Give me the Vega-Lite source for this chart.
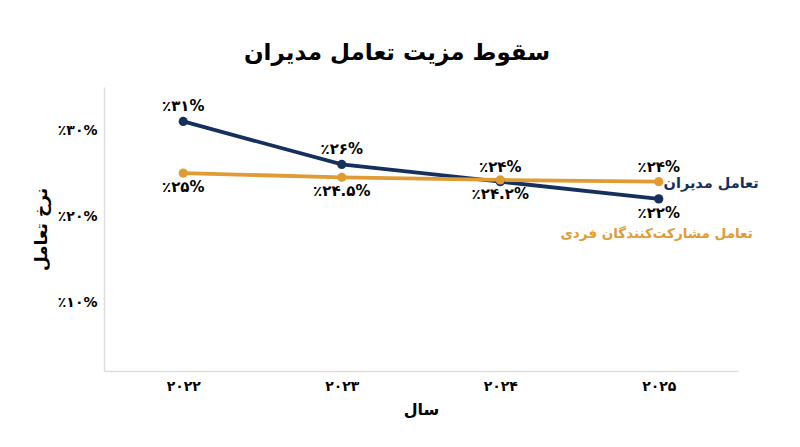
{
  "$schema": "https://vega.github.io/schema/vega-lite/v6.json",
  "width": 634,
  "height": 284,
  "autosize": "none",
  "padding": {"left": 104, "top": 87, "right": 62, "bottom": 76},
  "background": "white",
  "view": {"stroke": null},
  "config": {"font": "DejaVu Sans"},
  "title": {
    "text": "سقوط مزیت تعامل مدیران",
    "fontSize": 23,
    "fontWeight": "bold",
    "color": "#000000",
    "anchor": "middle",
    "dx": -24,
    "offset": 22
  },
  "data": {
    "values": [
      {"year": "۲۰۲۲", "series": "تعامل مدیران", "value": 31, "label": "٪۳۱%"},
      {"year": "۲۰۲۳", "series": "تعامل مدیران", "value": 26, "label": "٪۲۶%"},
      {"year": "۲۰۲۴", "series": "تعامل مدیران", "value": 24, "label": "٪۲۴%"},
      {"year": "۲۰۲۵", "series": "تعامل مدیران", "value": 22, "label": "٪۲۲%"},
      {"year": "۲۰۲۲", "series": "تعامل مشارکت‌کنندگان فردی", "value": 25, "label": "٪۲۵%"},
      {"year": "۲۰۲۳", "series": "تعامل مشارکت‌کنندگان فردی", "value": 24.5, "label": "٪۲۴.۵%"},
      {"year": "۲۰۲۴", "series": "تعامل مشارکت‌کنندگان فردی", "value": 24.2, "label": "٪۲۴.۲%"},
      {"year": "۲۰۲۵", "series": "تعامل مشارکت‌کنندگان فردی", "value": 24, "label": "٪۲۴%"}
    ]
  },
  "encoding": {
    "x": {
      "field": "year",
      "type": "ordinal",
      "scale": {"type": "point", "padding": 0.5, "domain": ["۲۰۲۲", "۲۰۲۳", "۲۰۲۴", "۲۰۲۵"]},
      "axis": {
        "title": "سال",
        "titleFontSize": 16,
        "titleFontWeight": "bold",
        "titleColor": "#000000",
        "titlePadding": 8,
        "labelAngle": 0,
        "labelFontSize": 14,
        "labelFontWeight": "bold",
        "labelColor": "#000000",
        "labelPadding": 8,
        "ticks": false,
        "grid": false,
        "domainColor": "#dddddd",
        "domainWidth": 1.5
      }
    },
    "y": {
      "field": "value",
      "type": "quantitative",
      "scale": {"domain": [2, 35], "nice": false, "zero": false},
      "axis": {
        "title": "نرخ تعامل",
        "titleFontSize": 17,
        "titleFontWeight": "bold",
        "titleColor": "#000000",
        "titlePadding": 7,
        "values": [10, 20, 30],
        "labelExpr": "datum.value == 10 ? '٪۱۰%' : datum.value == 20 ? '٪۲۰%' : '٪۳۰%'",
        "labelFontSize": 14,
        "labelFontWeight": "bold",
        "labelColor": "#000000",
        "labelPadding": 7,
        "ticks": false,
        "grid": false,
        "domainColor": "#dddddd",
        "domainWidth": 1.5
      }
    },
    "color": {
      "field": "series",
      "type": "nominal",
      "scale": {
        "domain": ["تعامل مدیران", "تعامل مشارکت‌کنندگان فردی"],
        "range": ["#16305e", "#e09b35"]
      },
      "legend": null
    }
  },
  "layer": [
    {"mark": {"type": "line", "strokeWidth": 3.8}},
    {"mark": {"type": "point", "filled": true, "size": 85, "opacity": 1}},
    {
      "transform": [
        {"filter": "(datum.series == 'تعامل مدیران' && datum.year != '۲۰۲۵') || (datum.series != 'تعامل مدیران' && datum.year == '۲۰۲۵')"}
      ],
      "mark": {"type": "text", "baseline": "bottom", "dy": -7, "fontSize": 15, "fontWeight": "bold", "color": "#000000"},
      "encoding": {"text": {"field": "label"}, "color": {"value": "#000000"}}
    },
    {
      "transform": [
        {"filter": "!((datum.series == 'تعامل مدیران' && datum.year != '۲۰۲۵') || (datum.series != 'تعامل مدیران' && datum.year == '۲۰۲۵'))"}
      ],
      "mark": {"type": "text", "baseline": "top", "dy": 7, "fontSize": 15, "fontWeight": "bold", "color": "#000000"},
      "encoding": {"text": {"field": "label"}, "color": {"value": "#000000"}}
    },
    {
      "transform": [
        {"filter": "datum.series == 'تعامل مدیران' && datum.year == '۲۰۲۵'"}
      ],
      "mark": {"type": "text", "align": "right", "baseline": "middle", "dx": 100, "dy": -15, "fontSize": 14.5, "fontWeight": "bold"},
      "encoding": {"text": {"field": "series"}}
    },
    {
      "transform": [
        {"filter": "datum.series != 'تعامل مدیران' && datum.year == '۲۰۲۵'"}
      ],
      "mark": {"type": "text", "align": "right", "baseline": "middle", "dx": 94, "dy": 52, "fontSize": 13.5, "fontWeight": "bold"},
      "encoding": {"text": {"field": "series"}}
    }
  ]
}
